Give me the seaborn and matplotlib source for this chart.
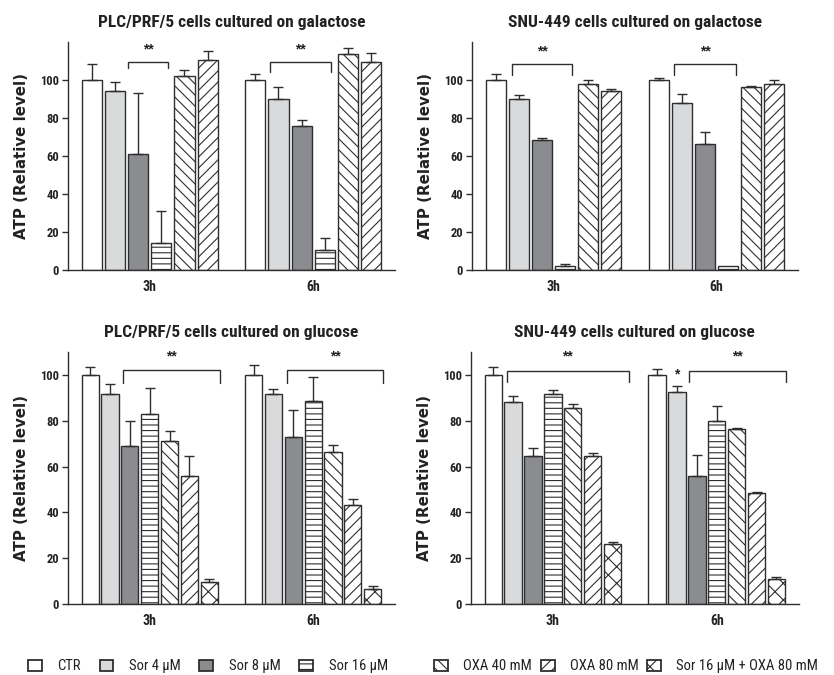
import numpy as np
import pandas as pd
import matplotlib
matplotlib.use("Agg")
import matplotlib.pyplot as plt
from matplotlib.patches import Patch
import seaborn as sns

# ---- data -----------------------------------------------------------------
times = ["3h", "6h"]
treatments = ["CTR", "Sor 4 µM", "Sor 8 µM", "Sor 16 µM",
              "OXA 40 mM", "OXA 80 mM", "Sor 16 µM + OXA 80 mM"]
face_colors = ["#ffffff", "#d9dadc", "#8b8c90", "#ffffff",
               "#ffffff", "#ffffff", "#ffffff"]
hatches = ["", "", "", "---", "\\\\\\", "///", "xx"]

# PLC/PRF/5 on galactose (6 treatments)
plc_gal_3h = [100, 94, 61, 14.4, 102, 110.3]
plc_gal_3h_sd = [8.5, 5, 32, 16.6, 3, 4.7]
plc_gal_6h = [100, 90, 75.7, 10.4, 113.4, 109.4]
plc_gal_6h_sd = [3, 6.5, 3.3, 6.6, 3.6, 4.9]

# SNU-449 on galactose (6 treatments)
snu_gal_3h = [100, 90, 68.4, 2.1, 98, 94.2]
snu_gal_3h_sd = [3.3, 2, 1.1, 1, 2, 0.8]
snu_gal_6h = [100, 87.8, 66.3, 2, 96, 98]
snu_gal_6h_sd = [1, 5, 6.3, 0, 0.8, 2]

# PLC/PRF/5 on glucose (7 treatments)
plc_glc_3h = [100, 91.7, 68.9, 83.1, 71.3, 56, 9.5]
plc_glc_3h_sd = [3.5, 4.3, 10.9, 11.1, 4.2, 8.5, 1.5]
plc_glc_6h = [100, 91.7, 73, 88.5, 66.2, 43.4, 6.7]
plc_glc_6h_sd = [4.5, 2.3, 11.9, 10.6, 3.2, 2.3, 1]

# SNU-449 on glucose (7 treatments)
snu_glc_3h = [100, 88.2, 64.5, 91.7, 85.6, 64.5, 26.2]
snu_glc_3h_sd = [3.5, 2.8, 3.5, 1.7, 1.7, 1.5, 0.8]
snu_glc_6h = [100, 92.6, 56, 79.8, 76.4, 48.3, 10.9]
snu_glc_6h_sd = [2.6, 2.4, 9.2, 6.5, 0.5, 0.6, 0.9]

titles = ["PLC/PRF/5 cells cultured on galactose",
          "SNU-449 cells cultured on galactose",
          "PLC/PRF/5 cells cultured on glucose",
          "SNU-449 cells cultured on glucose"]

# significance brackets: (time index, first bar, last bar,
#                         start inset, end inset [bar widths], height, drop, label)
brackets = [
    [(0, 2, 3, 0.0, -0.15, 109.6, 3.5, "**"), (1, 1, 3, 0.08, -0.2, 109.6, 5.5, "**")],
    [(0, 1, 3, 0.17, -0.17, 108.6, 6.0, "**"), (1, 1, 3, 0.12, -0.13, 108.6, 6.0, "**")],
    [(0, 2, 6, 0.1, 0.1, 102.0, 5.5, "**"), (1, 2, 6, 0.13, 0.1, 102.0, 5.5, "**")],
    [(0, 1, 6, 0.13, 0.45, 101.8, 5.0, "**"), (1, 2, 6, 0.04, 0.06, 101.8, 5.0, "**")],
]
single_stars = [[], [], [], [(1, 1, 101.6, "*")]]

panels = [
    (plc_gal_3h, plc_gal_3h_sd, plc_gal_6h, plc_gal_6h_sd),
    (snu_gal_3h, snu_gal_3h_sd, snu_gal_6h, snu_gal_6h_sd),
    (plc_glc_3h, plc_glc_3h_sd, plc_glc_6h, plc_glc_6h_sd),
    (snu_glc_3h, snu_glc_3h_sd, snu_glc_6h, snu_glc_6h_sd),
]
y_tops = [120, 120, 110, 110]

# ---- style ----------------------------------------------------------------
sns.set_theme(style="ticks")
narrow = ["Roboto Condensed", "PT Sans Narrow", "Liberation Sans Narrow", "DejaVu Sans"]
wide = ["DejaVu Sans"]
stars_font = ["Liberation Sans", "DejaVu Sans"]
plt.rcParams["font.family"] = narrow
plt.rcParams["hatch.linewidth"] = 0.8
plt.rcParams["hatch.color"] = "#2e2e2e"
EDGE = "#2e2e2e"
TXT = "#222222"

fig = plt.figure(figsize=(8.34, 6.75), dpi=100)
rects = [
    [0.0815, 0.600, 0.392, 0.338],
    [0.566, 0.600, 0.391, 0.338],
    [0.0815, 0.1052, 0.392, 0.3733],
    [0.5647, 0.1052, 0.393, 0.3733],
]

for k, (m3, s3, m6, s6) in enumerate(panels):
    ax = fig.add_axes(rects[k])
    n = len(m3)
    levels = treatments[:n]
    df = pd.DataFrame({
        "time": [times[0]] * n + [times[1]] * n,
        "treatment": levels + levels,
        "atp": list(m3) + list(m6),
        "sd": list(s3) + list(s6),
    })
    pal = dict(zip(levels, face_colors[:n]))
    sns.barplot(data=df, x="time", y="atp", hue="treatment", order=times,
                hue_order=levels, palette=pal, saturation=1, errorbar=None,
                width=0.85, gap=0.13, edgecolor=EDGE, linewidth=1.0,
                legend=False, ax=ax)

    # bar geometry per (time, treatment)
    geo = {}
    for h, cont in enumerate(ax.containers):
        bars = sorted(cont.patches, key=lambda p: p.get_x())
        for t, p in enumerate(bars):
            p.set_hatch(hatches[h])
            geo[(t, h)] = (p.get_x(), p.get_width())

    # upper-only error bars
    for t in range(2):
        for h in range(n):
            x0, w = geo[(t, h)]
            row = df[(df["time"] == times[t]) & (df["treatment"] == levels[h])].iloc[0]
            if row["sd"] > 0:
                ax.errorbar(x0 + w / 2, row["atp"], yerr=[[0], [row["sd"]]],
                            fmt="none", ecolor=EDGE, elinewidth=1.0,
                            capsize=3.3, capthick=1.0, zorder=1)

    # significance brackets
    for (t, i, j, a, b, y, drop, lab) in brackets[k]:
        xa = geo[(t, i)][0] + a * geo[(t, i)][1]
        xb = geo[(t, j)][0] + geo[(t, j)][1] * (1 + b)
        ax.plot([xa, xa, xb, xb], [y - drop, y, y, y - drop], color=EDGE,
                lw=1.0, clip_on=False, solid_joinstyle="miter")
        ax.annotate(lab, xy=((xa + xb) / 2, y + 0.07 * y_tops[k]),
                    xytext=(0, -5.5), textcoords="offset points",
                    ha="center", va="baseline", fontsize=10,
                    fontweight="bold", color=TXT, family=stars_font)
    for (t, i, yc, lab) in single_stars[k]:
        x0, w = geo[(t, i)]
        ax.annotate(lab, xy=(x0 + w / 2, yc), xytext=(0, -5.5),
                    textcoords="offset points", ha="center", va="baseline",
                    fontsize=10, fontweight="bold", color=TXT, family=stars_font)

    ax.set_ylim(0, y_tops[k])
    ax.set_xlim(-0.5, 1.5)
    ax.set_yticks([0, 20, 40, 60, 80, 100])
    ax.set_xlabel("")
    ax.set_ylabel("ATP (Relative level)", fontsize=10.8, fontweight="bold",
                  color=TXT, family=wide)
    ax.yaxis.set_label_coords(-0.119, 0.5)
    ax.set_title(titles[k], fontsize=12.5, fontweight="bold", color=TXT, pad=11)
    ax.tick_params(axis="y", length=4, width=1.0, labelsize=9, pad=2.5,
                   colors=EDGE, labelcolor=TXT)
    ax.tick_params(axis="x", length=0, labelsize=10, pad=7.5, labelcolor=TXT)
    for lab in ax.get_xticklabels() + ax.get_yticklabels():
        lab.set_fontweight("bold")
    sns.despine(ax=ax)
    for s in ("left", "bottom"):
        ax.spines[s].set_linewidth(1.0)
        ax.spines[s].set_color(EDGE)

# ---- legend ---------------------------------------------------------------
handles = [Patch(facecolor=face_colors[i], edgecolor=EDGE, hatch=hatches[i],
                 linewidth=1.3, label=treatments[i]) for i in range(7)]
common = dict(frameon=False, fontsize=10.5, handlelength=0.95, handleheight=0.85,
              handletextpad=1.05, borderpad=0, borderaxespad=0,
              loc="center left", labelcolor=TXT)
leg1 = fig.legend(handles=handles[:4], ncol=4, columnspacing=1.3,
                  bbox_to_anchor=(28 / 834, 0.0126), **common)
leg2 = fig.legend(handles=handles[4:], ncol=3, columnspacing=0.6,
                  bbox_to_anchor=(434 / 834, 0.0126), **common)

fig.savefig("out.png", dpi=100)
